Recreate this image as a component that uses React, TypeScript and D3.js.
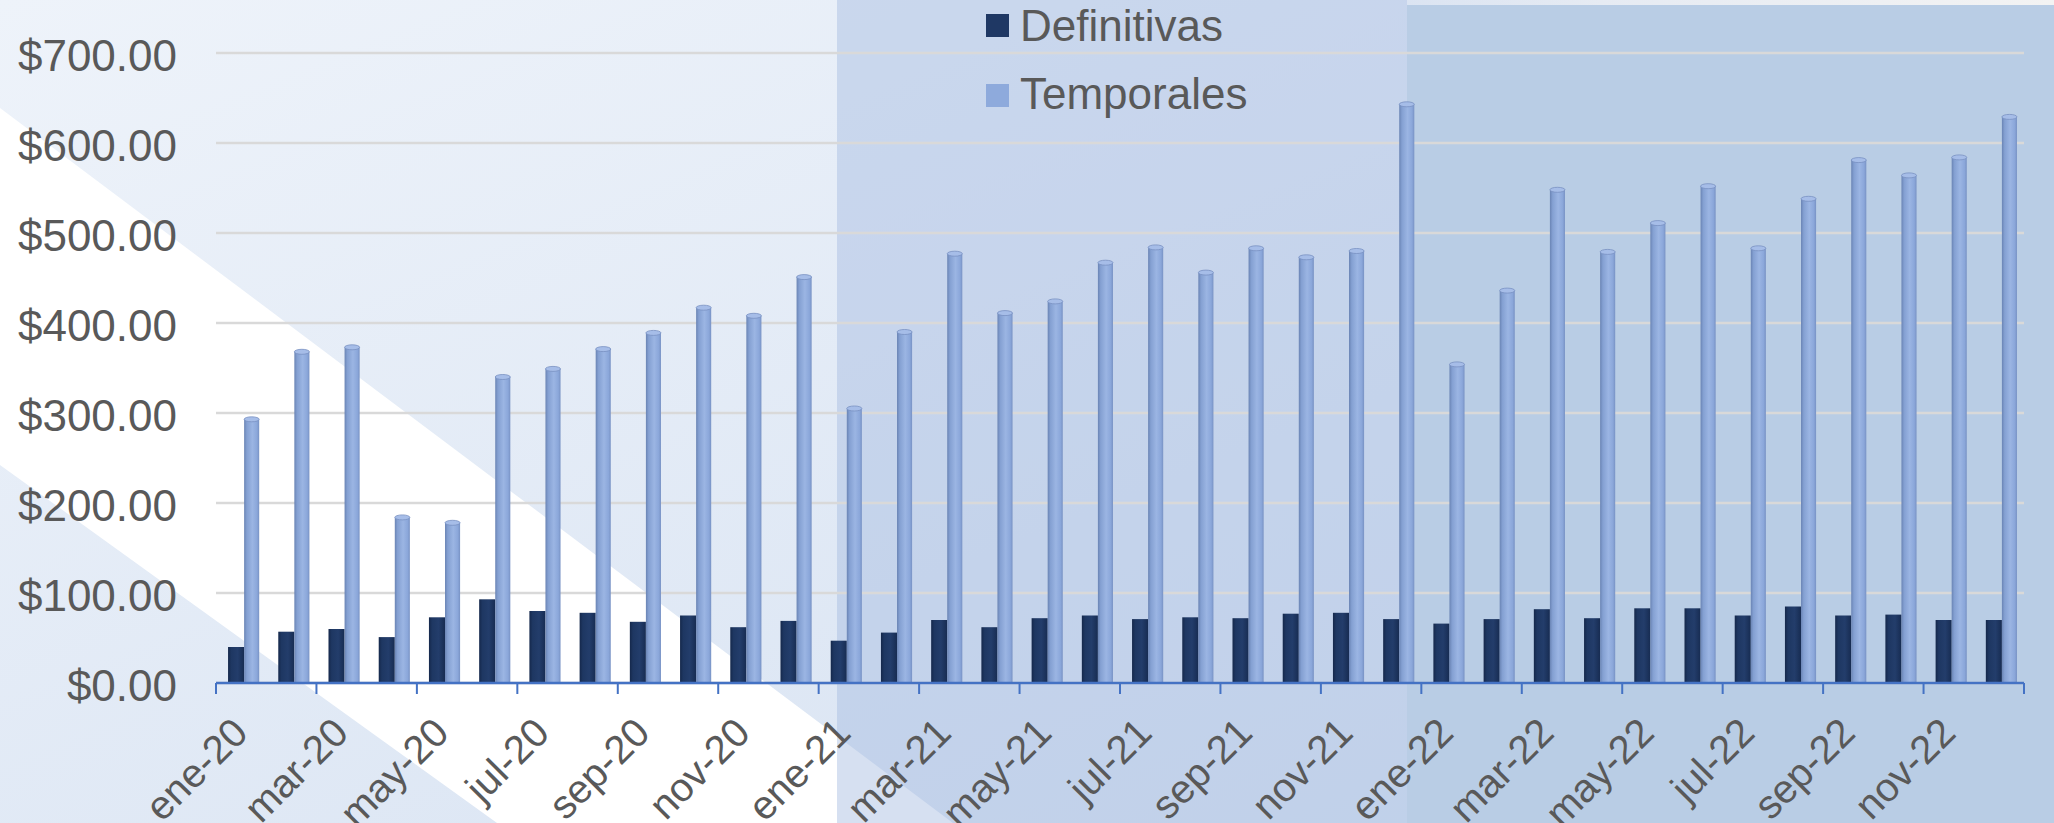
import React from 'react';
import * as d3 from 'd3';

// months of the chart, Jan 2020 .. Dec 2022
const months = [
  'ene-20', 'feb-20', 'mar-20', 'abr-20', 'may-20', 'jun-20', 'jul-20', 'ago-20', 'sep-20', 'oct-20', 'nov-20', 'dic-20',
  'ene-21', 'feb-21', 'mar-21', 'abr-21', 'may-21', 'jun-21', 'jul-21', 'ago-21', 'sep-21', 'oct-21', 'nov-21', 'dic-21',
  'ene-22', 'feb-22', 'mar-22', 'abr-22', 'may-22', 'jun-22', 'jul-22', 'ago-22', 'sep-22', 'oct-22', 'nov-22', 'dic-22',
];

const definitivas = [
  40, 57, 60, 51, 73, 93, 80, 78, 68, 75, 62, 69,
  47, 56, 70, 62, 72, 75, 71, 73, 72, 77, 78, 71,
  66, 71, 82, 72, 83, 83, 75, 85, 75, 76, 70, 70,
];

const temporales = [
  293, 368, 373, 184, 178, 340, 349, 371, 389, 417, 408, 451,
  305, 390, 477, 411, 424, 467, 484, 456, 483, 473, 480, 643,
  354, 436, 548, 479, 511, 552, 483, 538, 581, 564, 584, 629,
];

const seriesNames = ['Definitivas', 'Temporales'];
const yTicks = [0, 100, 200, 300, 400, 500, 600, 700];
// only every second month gets a label
const tickLabels = months.filter((m, i) => i % 2 === 0);

const W = 2054;
const H = 823;
const margin = { top: 53, right: 30, bottom: 140, left: 216 };
const font = "'Liberation Sans', Arial, sans-serif";
const textColor = '#595959';

const App = () => {
  const x = d3.scaleBand().domain(months).range([margin.left, W - margin.right]);
  const bw = x.bandwidth();
  const x1 = d3.scaleBand().domain(seriesNames).range([bw * 0.24, bw * 0.88]);
  const y = d3.scaleLinear().domain([0, 700]).range([H - margin.bottom, margin.top]);
  const fmt = d3.format('$,.2f');

  const rows = months.map((m, i) => ({ m, def: definitivas[i], tmp: temporales[i] }));
  const y0 = y(0);

  return (
    <div style={{ position: 'absolute', left: 0, top: 0 }}>
      <svg width={W} height={H} style={{ display: 'block' }}>
        <defs>
          <linearGradient id="bgBase" x1="0" y1="0" x2="1" y2="1">
            <stop offset="0%" stopColor="#eef3fa" />
            <stop offset="100%" stopColor="#d4e0f1" />
          </linearGradient>
          <linearGradient id="topStrip" x1="0" y1="0" x2="1" y2="0">
            <stop offset="0%" stopColor="#dbe4f2" />
            <stop offset="30%" stopColor="#e6ebf3" />
            <stop offset="100%" stopColor="#f3f3f3" />
          </linearGradient>
          <linearGradient id="gDark" x1="0" y1="0" x2="1" y2="0">
            <stop offset="0%" stopColor="#15284b" />
            <stop offset="20%" stopColor="#1e3762" />
            <stop offset="60%" stopColor="#233d6b" />
            <stop offset="100%" stopColor="#172c52" />
          </linearGradient>
          <linearGradient id="gLight" x1="0" y1="0" x2="1" y2="0">
            <stop offset="0%" stopColor="#6a84b4" />
            <stop offset="18%" stopColor="#84a0d2" />
            <stop offset="55%" stopColor="#9bb5e3" />
            <stop offset="85%" stopColor="#8ba7da" />
            <stop offset="100%" stopColor="#7892c4" />
          </linearGradient>
        </defs>

        {/* background */}
        <rect x={0} y={0} width={W} height={H} fill="url(#bgBase)" />
        <polygon points="0,108 953,823 497,823 0,465" fill="#ffffff" />
        <rect x={837} y={0} width={W - 837} height={H} fill="#a4bbdf" opacity={0.45} />
        <rect x={1407} y={0} width={W - 1407} height={5} fill="url(#topStrip)" />
        <rect x={1407} y={5} width={W - 1407} height={H - 5} fill="#b9cde5" />

        {/* gridlines + y labels */}
        {yTicks.map((t) => (
          <g key={t}>
            <line x1={margin.left} x2={W - margin.right} y1={y(t)} y2={y(t)} stroke="#d9d9d9" strokeWidth={2.5} />
            <text x={177} y={y(t) + 18} textAnchor="end" fontFamily={font} fontSize={44} fill={textColor}>
              {fmt(t)}
            </text>
          </g>
        ))}

        {/* bars */}
        {rows.map((r) => {
          const bx = x(r.m) as number;
          const xd = bx + (x1('Definitivas') as number);
          const xt = bx + (x1('Temporales') as number);
          const w = x1.bandwidth();
          return (
            <g key={r.m}>
              <rect x={xd} y={y(r.def)} width={w} height={y0 - y(r.def)} fill="url(#gDark)" />
              <rect x={xt} y={y(r.tmp)} width={w - 1} height={y0 - y(r.tmp)} fill="url(#gLight)" />
              <ellipse cx={xt + (w - 1) / 2} cy={y(r.tmp)} rx={(w - 1) / 2} ry={2.5} fill="#a6bde8" stroke="#7891c2" strokeWidth={0.8} />
            </g>
          );
        })}

        {/* x axis */}
        <line x1={margin.left} x2={W - margin.right} y1={y0} y2={y0} stroke="#4472c4" strokeWidth={2.5} />
        {months.map((m, i) => (i % 2 === 0 ? (
          <line key={m} x1={x(m)} x2={x(m)} y1={y0} y2={y0 + 11} stroke="#4472c4" strokeWidth={2} />
        ) : null))}
        <line x1={W - margin.right} x2={W - margin.right} y1={y0} y2={y0 + 11} stroke="#4472c4" strokeWidth={2} />
        {tickLabels.map((m) => {
          const cx = (x(m) as number) + bw / 2 + 9;
          const cy = 735;
          return (
            <text key={m} x={cx} y={cy} textAnchor="end" fontFamily={font} fontSize={40} fill={textColor}
              transform={`rotate(-45, ${cx}, ${cy})`}>
              {m}
            </text>
          );
        })}

        {/* legend */}
        <rect x={986} y={14} width={23} height={23} fill="#1f3864" />
        <text x={1020} y={41} fontFamily={font} fontSize={44} fill={textColor}>Definitivas</text>
        <rect x={986} y={84} width={23} height={23} fill="#8eaadc" />
        <text x={1020} y={109} fontFamily={font} fontSize={44} fill={textColor}>Temporales</text>
      </svg>
    </div>
  );
};

export default App;
